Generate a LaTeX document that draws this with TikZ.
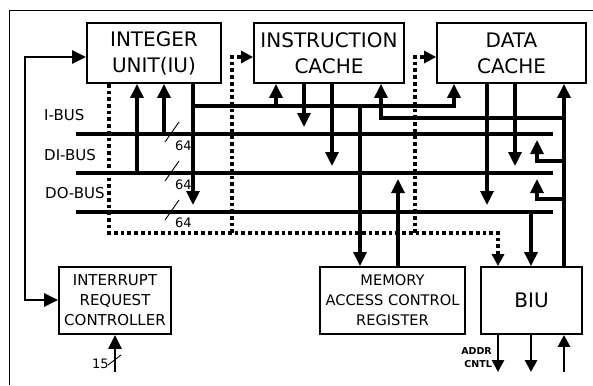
\documentclass[tikz,border=0pt]{standalone}
\usepackage{fontspec}
\setmainfont{DejaVu Sans}
\usetikzlibrary{arrows.meta}
\begin{document}
\begin{tikzpicture}[x=1pt,y=-1pt,
  box/.style={draw,line width=1.8pt,inner sep=0pt,align=center},
  bigtext/.style={font=\fontsize{20}{26}\selectfont},
  midtext/.style={font=\fontsize{15}{20}\selectfont},
  bus/.style={line width=4.2pt},
  sig/.style={line width=3.2pt},
  thinsig/.style={line width=2.8pt},
  dotline/.style={line width=3.7pt,dash pattern=on 3.7pt off 3pt},
  tip/.style={-{Triangle[width=13pt,length=14pt]}},
  smalltip/.style={-{Triangle[width=12pt,length=12pt]}},
  slash/.style={line width=0.9pt},
  buslabel/.style={anchor=base west,inner sep=0pt,font=\fontsize{15}{18}\selectfont},
  widthlabel/.style={anchor=base west,inner sep=0pt,font=\fontsize{13}{15}\selectfont},
]
\useasboundingbox (0,0) rectangle (593,385);
% outer frame (top and left only)
\coordinate (frameR) at (593,11);
\coordinate (frameC) at (9,11);
\coordinate (frameB) at (9,385);
\draw[line width=1pt] (frameR) -- (frameC) -- (frameB);

% boxes
\node[box,bigtext,minimum width=134pt,minimum height=60pt] (IU) at (154,53) {INTEGER\\UNIT(IU)};
\node[box,bigtext,minimum width=150pt,minimum height=60pt] (IC) at (329,53) {INSTRUCTION\\CACHE};
\node[box,bigtext,minimum width=149pt,minimum height=60pt] (DC) at (511.5,53) {DATA\\CACHE};
\node[box,midtext,minimum width=112pt,minimum height=67pt] (IRC) at (115,300.5) {INTERRUPT\\REQUEST\\CONTROLLER};
\node[box,font=\fontsize{14.6}{20}\selectfont,minimum width=145pt,minimum height=67pt] (MACR) at (392.5,300.5) {MEMORY\\ACCESS CONTROL\\REGISTER};
\node[box,bigtext,minimum width=101pt,minimum height=67pt] (BIU) at (531.5,300.5) {BIU};

% buses
\coordinate (ibusL) at (76,134);  \coordinate (ibusR) at (553,134);
\coordinate (dibusL) at (76,173); \coordinate (dibusR) at (553,173);
\coordinate (dobusL) at (76,212); \coordinate (dobusR) at (553,212);
\draw[bus] (ibusL) -- (ibusR);
\draw[bus] (dibusL) -- (dibusR);
\draw[bus] (dobusL) -- (dobusR);
\node[buslabel] (lI) at (44,121) {I-BUS};
\node[buslabel] (lDI) at (44,160) {DI-BUS};
\node[buslabel] (lDO) at (45,198) {DO-BUS};

% width marks
\draw[slash] (165,142) -- (179,122);
\draw[slash] (165,181) -- (179,161);
\draw[slash] (165,220) -- (179,200);
\node[widthlabel] (w1) at (175,150) {64};
\node[widthlabel] (w2) at (175,189) {64};
\node[widthlabel] (w3) at (175,227) {64};

% dotted control paths
\coordinate (d1) at (109,233);
\coordinate (d2) at (498,233);
\coordinate (d3) at (232,233);
\coordinate (d4) at (232,57);
\coordinate (d5) at (415,233);
\coordinate (d6) at (415,57);
\draw[dotline,smalltip] (109,0 |- IU.south) -- (d1) -- (d2) -- (498,0 |- BIU.north);
\draw[dotline,smalltip] (d3) -- (d4) -- (IC.west |- d4);
\draw[dotline,smalltip] (d5) -- (d6) -- (DC.west |- d6);

% interrupt connection
\coordinate (l1) at (25,57);
\coordinate (l2) at (25,300);
\draw[thinsig,{Triangle[width=13pt,length=14pt]}-{Triangle[width=13pt,length=14pt]}]
  (IU.west |- l1) -- (l1) -- (l2) -- (IRC.west |- l2);
\coordinate (irqIn) at (115,372);
\draw[thinsig,tip] (irqIn) -- (IRC.south);
\draw[slash] (108,365) -- (121,355);
\node[widthlabel] (w15) at (92,368) {15};

% integer unit connections
\draw[sig,tip] (137,173) -- (137,0 |- IU.south);
\draw[sig,tip] (164,134) -- (164,0 |- IU.south);
\draw[sig,tip] (193,0 |- IU.south) -- (193,205);
\coordinate (a1) at (193,106);
\coordinate (a2) at (454,106);
\draw[sig,tip] (a1) -- (a2) -- (454,0 |- DC.south);
\draw[sig,tip] (276,106) -- (276,0 |- IC.south);
\draw[sig,tip] (360,106) -- (360,0 |- MACR.north);

% instruction cache connections
\draw[sig,tip] (304,0 |- IC.south) -- (304,127);
\draw[sig,tip] (332,0 |- IC.south) -- (332,166);
\coordinate (b1) at (564,118);
\coordinate (b2) at (381,118);
\draw[sig,tip] (b1) -- (b2) -- (381,0 |- IC.south);

% data cache connections
\draw[sig,tip] (487,0 |- DC.south) -- (487,205);
\draw[sig,tip] (515,0 |- DC.south) -- (515,166);

% BIU connections
\draw[sig,tip] (564,0 |- BIU.north) -- (564,0 |- DC.south);
\coordinate (c1) at (564,161); \coordinate (c2) at (537,161);
\draw[sig,tip] (c1) -- (c2) -- (537,140);
\coordinate (c3) at (564,199); \coordinate (c4) at (537,199);
\draw[sig,tip] (c3) -- (c4) -- (537,179);
\draw[sig,tip] (531,212) -- (531,0 |- BIU.north);
\draw[thinsig,smalltip] (498,0 |- BIU.south) -- (498,372);
\draw[thinsig,smalltip] (531,0 |- BIU.south) -- (531,372);
\draw[thinsig,smalltip] (564,372) -- (564,0 |- BIU.south);
\node[anchor=east,inner sep=0pt,align=right,font=\fontsize{9.5}{13}\bfseries\selectfont] (addr) at (492,357.5) {ADDR\\CNTL};

% memory access control register
\draw[sig,tip] (398,0 |- MACR.north) -- (398,179);
\end{tikzpicture}
\end{document}
